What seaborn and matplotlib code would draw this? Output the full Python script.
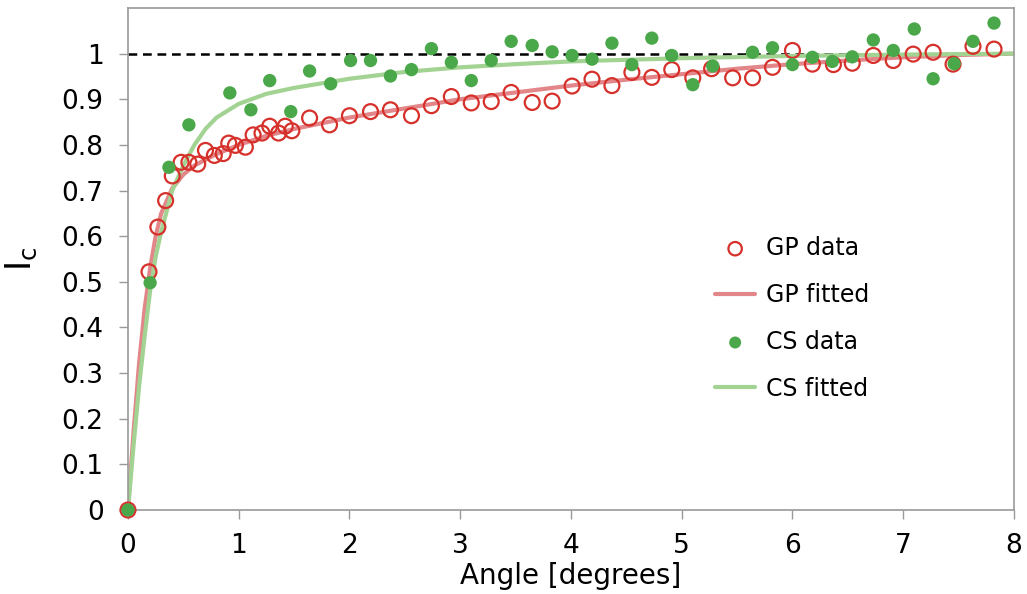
import numpy as np
import matplotlib
matplotlib.use("Agg")
import matplotlib.pyplot as plt
import seaborn as sns

# ── Data ──────────────────────────────────────────────────────────────────────
gp_x = [0, 0.19, 0.27, 0.34, 0.40, 0.48, 0.55, 0.63, 0.70, 0.78, 0.86, 0.91, 0.97,
        1.06, 1.13, 1.21, 1.28, 1.36, 1.42, 1.48, 1.64, 1.82, 2.00, 2.19, 2.37,
        2.56, 2.74, 2.92, 3.10, 3.28, 3.46, 3.65, 3.83, 4.01, 4.19, 4.37, 4.55,
        4.73, 4.91, 5.10, 5.27, 5.46, 5.64, 5.82, 6.00, 6.18, 6.37, 6.54, 6.73,
        6.91, 7.09, 7.27, 7.45, 7.63, 7.82]
gp_y = [0, 0.522, 0.620, 0.678, 0.732, 0.762, 0.762, 0.758, 0.788, 0.777, 0.781,
        0.804, 0.799, 0.795, 0.822, 0.826, 0.841, 0.826, 0.841, 0.831, 0.859,
        0.844, 0.864, 0.873, 0.877, 0.864, 0.886, 0.906, 0.892, 0.895, 0.915,
        0.893, 0.896, 0.929, 0.944, 0.930, 0.959, 0.948, 0.965, 0.947, 0.967,
        0.947, 0.947, 0.970, 1.007, 0.977, 0.976, 0.979, 0.996, 0.985, 0.999,
        1.003, 0.977, 1.016, 1.010]

cs_x = [0, 0.20, 0.37, 0.55, 0.92, 1.11, 1.28, 1.47, 1.64, 1.83, 2.01, 2.19, 2.37,
        2.56, 2.74, 2.92, 3.10, 3.28, 3.46, 3.65, 3.83, 4.01, 4.19, 4.37, 4.55,
        4.73, 4.91, 5.10, 5.28, 5.64, 5.82, 6.00, 6.18, 6.36, 6.54, 6.73, 6.91,
        7.10, 7.27, 7.46, 7.63, 7.82]
cs_y = [0, 0.498, 0.751, 0.844, 0.914, 0.877, 0.941, 0.873, 0.962, 0.934, 0.985,
        0.985, 0.951, 0.965, 1.011, 0.981, 0.941, 0.985, 1.027, 1.018, 1.004,
        0.996, 0.988, 1.023, 0.976, 1.034, 0.996, 0.932, 0.973, 1.003, 1.013,
        0.976, 0.992, 0.983, 0.993, 1.030, 1.007, 1.054, 0.945, 0.978, 1.027,
        1.067]

gp_fit_x = [0, 0.05, 0.1, 0.15, 0.2, 0.25, 0.3, 0.4, 0.5, 0.6, 0.8, 1.0, 1.25, 1.5,
            2.0, 2.5, 3.0, 3.5, 4.0, 4.5, 5.0, 5.5, 6.0, 6.5, 7.0, 7.5, 8.0]
gp_fit_y = [0, 0.17, 0.32, 0.44, 0.53, 0.60, 0.65, 0.705, 0.735, 0.755, 0.78, 0.80,
            0.82, 0.835, 0.86, 0.88, 0.90, 0.915, 0.93, 0.943, 0.955, 0.967, 0.977,
            0.985, 0.992, 0.997, 1.0]

cs_fit_x = [0, 0.05, 0.1, 0.15, 0.2, 0.25, 0.3, 0.4, 0.5, 0.6, 0.7, 0.8, 1.0, 1.25,
            1.5, 2.0, 2.5, 3.0, 3.5, 4.0, 5.0, 6.0, 7.0, 8.0]
cs_fit_y = [0, 0.14, 0.27, 0.38, 0.48, 0.555, 0.61, 0.70, 0.755, 0.80, 0.835, 0.86,
            0.89, 0.912, 0.925, 0.945, 0.96, 0.97, 0.977, 0.983, 0.99, 0.995,
            0.998, 1.0]

y_ticks = [0, 0.1, 0.2, 0.3, 0.4, 0.5, 0.6, 0.7, 0.8, 0.9, 1.0]
y_ticklabels = ["0", "0.1", "0.2", "0.3", "0.4", "0.5", "0.6", "0.7", "0.8", "0.9", "1"]

RED = "#d6302a"
RED_FIT = "#e3868a"
GREEN = "#4aa84a"
GREEN_FIT = "#a3d393"

# ── Style ─────────────────────────────────────────────────────────────────────
sns.set_style("white")
plt.rcParams["font.family"] = ["DejaVu Sans"]
plt.rcParams["mathtext.default"] = "regular"
plt.rcParams["text.color"] = "black"
plt.rcParams["axes.labelcolor"] = "black"
plt.rcParams["xtick.color"] = "black"
plt.rcParams["ytick.color"] = "black"

fig = plt.figure(figsize=(10.27, 5.94), dpi=100)
ax = fig.add_axes([0.1246, 0.1414, 0.8627, 0.8451])

ax.axhline(1.0, color="black", lw=1.8, ls=(0, (3.5, 2.3)), zorder=1)

sns.lineplot(x=gp_fit_x, y=gp_fit_y, color=RED_FIT, lw=3.0, ax=ax,
             label="GP fitted", zorder=2)
sns.lineplot(x=cs_fit_x, y=cs_fit_y, color=GREEN_FIT, lw=3.0, ax=ax,
             label="CS fitted", zorder=2)
sns.scatterplot(x=cs_x, y=cs_y, marker="o", s=92, color=GREEN,
                edgecolor="none", ax=ax, label="CS data", zorder=4,
                clip_on=False)
sns.scatterplot(x=gp_x, y=gp_y, marker="o", s=115, facecolor="none",
                edgecolor=RED, linewidth=1.6, ax=ax, label="GP data",
                zorder=3, clip_on=False)

ax.set_xlim(0, 8)
ax.set_ylim(0, 1.1)
ax.set_xticks(range(0, 9))
ax.set_yticks(y_ticks)
ax.set_yticklabels(y_ticklabels)
ax.tick_params(axis="both", labelsize=19, direction="out", length=6.5,
               width=1, color="#999999", left=True, bottom=True)
ax.tick_params(axis="y", pad=11)
ax.tick_params(axis="x", pad=10)
for sp in ax.spines.values():
    sp.set_color("#999999")
    sp.set_linewidth(1.2)

ax.set_xlabel("Angle [degrees]", fontsize=20, labelpad=2)
ax.set_ylabel("I$_c$", fontsize=25, labelpad=16)

# legend in the reference order
handles, labels = ax.get_legend_handles_labels()
order = ["GP data", "GP fitted", "CS data", "CS fitted"]
hmap = dict(zip(labels, handles))
ax.legend([hmap[k] for k in order], order, loc="center left",
          bbox_to_anchor=(0.652, 0.382), borderaxespad=0, frameon=False,
          fontsize=17, labelspacing=0.97, handlelength=1.7,
          handletextpad=0.45, markerscale=0.9)

plt.savefig("out.png", dpi=100)
plt.close()
